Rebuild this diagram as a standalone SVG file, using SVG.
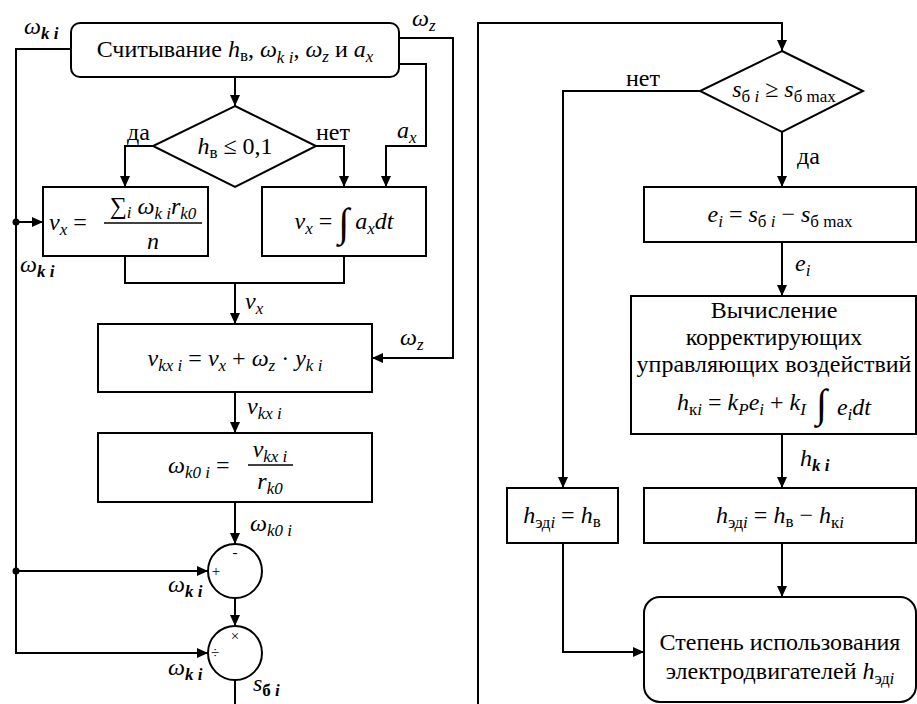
<svg xmlns="http://www.w3.org/2000/svg" width="917" height="704" viewBox="0 0 917 704" font-family="'Liberation Serif', 'DejaVu Serif', serif">
<defs>
<marker id="ar" markerUnits="userSpaceOnUse" markerWidth="12" markerHeight="10" refX="11" refY="5" orient="auto">
<path d="M0,0 L11,5 L0,10 z" fill="#000"/>
</marker>
<style>
.b{fill:#fff;stroke:#000;stroke-width:2}
.c{fill:none;stroke:#000;stroke-width:2}
.a{marker-end:url(#ar)}
text{font-family:'Liberation Serif','DejaVu Serif',serif;font-size:24px;fill:#000}
.m{font-style:italic}
.s{font-size:17px}
.sm{font-size:15px}
</style>
</defs>
<rect width="917" height="704" fill="#fff"/>

<g id="connectors">
<path class="c a" d="M235,77 V106"/>
<path class="c a" d="M153,146 H125 V187"/>
<path class="c a" d="M316,146 H344 V187"/>
<path class="c a" d="M399,64 H426 V146 H386 V187"/>
<path class="c a" d="M399,38 H453 V358 H372"/>
<path class="c a" d="M71,49 H16 V653 H208"/>
<path class="c a" d="M16,222 H43"/>
<circle cx="16" cy="222" r="3.5" fill="#000"/>
<path class="c a" d="M16,571 H208"/>
<circle cx="16" cy="571" r="3.5" fill="#000"/>
<path class="c" d="M125,256 V283 H344 V256"/>
<path class="c a" d="M235,283 V324"/>
<path class="c a" d="M235,392 V433"/>
<path class="c a" d="M235,502 V544"/>
<path class="c a" d="M235,598 V626"/>
<path class="c" d="M235,680 V704"/>
<path class="c a" d="M478,704 V23 H782 V51"/>
<path class="c a" d="M782,132 V187"/>
<path class="c a" d="M700,91 H563 V488"/>
<path class="c a" d="M782,242 V296"/>
<path class="c a" d="M782,434 V488"/>
<path class="c a" d="M782,543 V597"/>
<path class="c a" d="M563,543 V652 H644"/>
</g>

<g id="labels">
<text x="24" y="34" class="m">ω<tspan class="s" dy="5" font-weight="bold">k i</tspan></text>
<text x="412" y="26" class="m">ω<tspan class="s" dy="5">z</tspan></text>
<text x="127" y="140">да</text>
<text x="316" y="140">нет</text>
<text x="397" y="138" class="m">a<tspan class="s" dy="5">x</tspan></text>
<text x="20" y="272" class="m">ω<tspan class="s" dy="5" font-weight="bold">k i</tspan></text>
<text x="245" y="309" class="m">v<tspan class="s" dy="5">x</tspan></text>
<text x="400" y="345" class="m">ω<tspan class="s" dy="5">z</tspan></text>
<text x="247" y="414" class="m">v<tspan class="s" dy="5">kx i</tspan></text>
<text x="250" y="531" class="m">ω<tspan class="s" dy="5">k0 i</tspan></text>
<text x="168" y="592" class="m">ω<tspan class="s" dy="5" font-weight="bold">k i</tspan></text>
<text x="168" y="675" class="m">ω<tspan class="s" dy="5" font-weight="bold">k i</tspan></text>
<text x="253" y="691" class="m">s<tspan class="s" dy="5" font-style="normal" font-weight="bold">б</tspan><tspan class="s" font-weight="bold"> i</tspan></text>
<text x="626" y="86">нет</text>
<text x="797" y="164">да</text>
<text x="795" y="271" class="m">e<tspan class="s" dy="5">i</tspan></text>
<text x="800" y="466" class="m">h<tspan class="s" dy="5" font-weight="bold">k i</tspan></text>
</g>

<g id="n-read">
<rect class="b" x="71" y="23" width="328" height="54" rx="9"/>
<text x="235" y="57" text-anchor="middle">Считывание <tspan class="m">h</tspan><tspan class="s" dy="4">в</tspan><tspan dy="-4">, </tspan><tspan class="m">ω</tspan><tspan class="s m" dy="6">k i</tspan><tspan dy="-6">, </tspan><tspan class="m">ω</tspan><tspan class="s m" dy="5">z</tspan><tspan dy="-5"> и </tspan><tspan class="m">a</tspan><tspan class="s m" dy="5">x</tspan></text>
</g>

<g id="n-cond1">
<polygon class="b" points="235,106 316,146 235,187 153,146"/>
<text x="235" y="154" text-anchor="middle"><tspan class="m">h</tspan><tspan class="s" dy="4">в</tspan><tspan dy="-4"> ≤ 0,1</tspan></text>
</g>

<g id="n-vx1">
<rect class="b" x="43" y="187" width="165" height="69"/>
<text x="49" y="230" class="m">v<tspan class="s" dy="5">x</tspan><tspan dy="-5" font-style="normal"> =</tspan></text>
<line x1="104" y1="223" x2="202" y2="223" stroke="#000" stroke-width="1.5"/>
<text x="153" y="214" text-anchor="middle"><tspan>∑</tspan><tspan class="s m" dy="4">i</tspan><tspan class="m" dy="-4"> ω</tspan><tspan class="s m" dy="5">k i</tspan><tspan class="m" dy="-5">r</tspan><tspan class="s m" dy="5">k0</tspan></text>
<text x="153" y="249" text-anchor="middle" class="m">n</text>
</g>

<g id="n-vx2">
<rect class="b" x="262" y="187" width="164" height="69"/>
<text x="344" y="229" text-anchor="middle"><tspan class="m">v</tspan><tspan class="s m" dy="5">x</tspan><tspan dy="-5"> = </tspan><tspan font-size="40" dy="7">∫</tspan><tspan class="m" dy="-7"> a</tspan><tspan class="s m" dy="5">x</tspan><tspan class="m" dy="-5">dt</tspan></text>
</g>

<g id="n-vkx">
<rect class="b" x="98" y="324" width="274" height="68"/>
<text x="235" y="366" text-anchor="middle"><tspan class="m">v</tspan><tspan class="s m" dy="5">kx i</tspan><tspan dy="-5"> = </tspan><tspan class="m">v</tspan><tspan class="s m" dy="5">x</tspan><tspan dy="-5"> + </tspan><tspan class="m">ω</tspan><tspan class="s m" dy="5">z</tspan><tspan dy="-5"> · </tspan><tspan class="m">y</tspan><tspan class="s m" dy="5">k i</tspan></text>
</g>

<g id="n-wk0">
<rect class="b" x="98" y="433" width="274" height="69"/>
<text x="168" y="473" class="m">ω<tspan class="s" dy="5">k0 i</tspan><tspan dy="-5" font-style="normal"> =</tspan></text>
<line x1="248" y1="465" x2="293" y2="465" stroke="#000" stroke-width="1.5"/>
<text x="270" y="457" text-anchor="middle" class="m">v<tspan class="s" dy="5">kx i</tspan></text>
<text x="270" y="489" text-anchor="middle" class="m">r<tspan class="s" dy="5">k0</tspan></text>
</g>

<g id="n-sum">
<circle class="b" cx="235" cy="571" r="27"/>
<text x="235" y="557" text-anchor="middle" class="sm">-</text>
<text x="216" y="576" text-anchor="middle" class="sm">+</text>
</g>

<g id="n-div">
<circle class="b" cx="235" cy="653" r="27"/>
<text x="235" y="641" text-anchor="middle" class="sm">×</text>
<text x="215" y="658" text-anchor="middle" class="sm">÷</text>
</g>

<g id="n-cond2">
<polygon class="b" points="782,51 863,91 782,132 700,91"/>
<text x="784" y="97" text-anchor="middle"><tspan class="m">s</tspan><tspan class="s" dy="5">б </tspan><tspan class="s m">i</tspan><tspan dy="-5"> ≥ </tspan><tspan class="m">s</tspan><tspan class="s" dy="5">б max</tspan></text>
</g>

<g id="n-err">
<rect class="b" x="644" y="187" width="272" height="55"/>
<text x="780" y="222" text-anchor="middle"><tspan class="m">e</tspan><tspan class="s m" dy="5">i</tspan><tspan dy="-5"> = </tspan><tspan class="m">s</tspan><tspan class="s" dy="5">б </tspan><tspan class="s m">i</tspan><tspan dy="-5"> − </tspan><tspan class="m">s</tspan><tspan class="s" dy="5">б max</tspan></text>
</g>

<g id="n-calc">
<rect class="b" x="631" y="296" width="285" height="138"/>
<text x="774" y="318" text-anchor="middle">Вычисление</text>
<text x="774" y="345" text-anchor="middle">корректирующих</text>
<text x="774" y="372" text-anchor="middle">управляющих воздействий</text>
<text x="774" y="410" text-anchor="middle"><tspan class="m">h</tspan><tspan class="s" dy="5">к</tspan><tspan class="s m">i</tspan><tspan dy="-5"> = </tspan><tspan class="m">k</tspan><tspan class="s m" dy="5">P</tspan><tspan class="m" dy="-5">e</tspan><tspan class="s m" dy="5">i</tspan><tspan dy="-5"> + </tspan><tspan class="m">k</tspan><tspan class="s m" dy="5">I</tspan><tspan font-size="40" dy="2"> ∫ </tspan><tspan class="m" dy="-2">e</tspan><tspan class="s m" dy="5">i</tspan><tspan class="m" dy="-5">dt</tspan></text>
</g>

<g id="n-h1">
<rect class="b" x="507" y="488" width="111" height="55"/>
<text x="562" y="523" text-anchor="middle"><tspan class="m">h</tspan><tspan class="s" dy="5">эд</tspan><tspan class="s m">i</tspan><tspan dy="-5"> = </tspan><tspan class="m">h</tspan><tspan class="s" dy="4">в</tspan></text>
</g>

<g id="n-h2">
<rect class="b" x="644" y="488" width="272" height="55"/>
<text x="780" y="523" text-anchor="middle"><tspan class="m">h</tspan><tspan class="s" dy="5">эд</tspan><tspan class="s m">i</tspan><tspan dy="-5"> = </tspan><tspan class="m">h</tspan><tspan class="s" dy="4">в</tspan><tspan dy="-4"> − </tspan><tspan class="m">h</tspan><tspan class="s" dy="5">к</tspan><tspan class="s m">i</tspan></text>
</g>

<g id="n-out">
<rect class="b" x="644" y="597" width="272" height="105" rx="16"/>
<text x="780" y="650" text-anchor="middle">Степень использования</text>
<text x="780" y="679" text-anchor="middle">электродвигателей <tspan class="m">h</tspan><tspan class="s" dy="5">эд</tspan><tspan class="s m">i</tspan></text>
</g>
</svg>
